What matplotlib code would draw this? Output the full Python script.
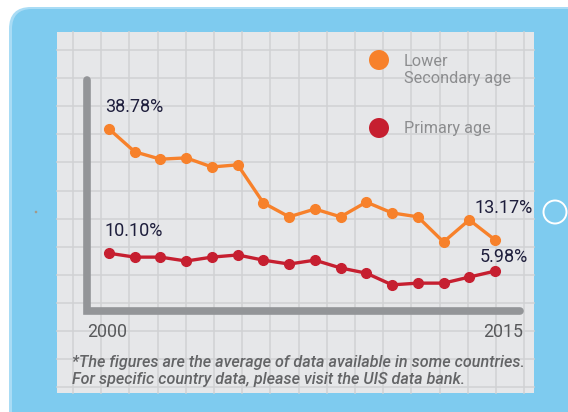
import numpy as np
import matplotlib
matplotlib.use("Agg")
import matplotlib.pyplot as plt
from matplotlib.patches import FancyBboxPatch, Circle, Rectangle

# data
years = list(range(2000, 2016))
lower_secondary = [38.78, 33.5, 31.8, 32.1, 30.0, 30.5, 21.7, 18.5,
                   20.3, 18.5, 21.9, 19.4, 18.5, 12.7, 17.8, 13.17]
primary = [10.10, 9.2, 9.2, 8.3, 9.2, 9.7, 8.5, 7.6,
           8.5, 6.7, 5.5, 2.8, 3.2, 3.2, 4.6, 5.98]
series_names = ["Lower\nSecondary age", "Primary age"]
end_years = ["2000", "2015"]
note = ("*The figures are the average of data available in some countries.\n"
        "For specific country data, please visit the UIS data bank.")

W, H = 568, 412
BLUE = "#7ecbef"
ORANGE = "#f7812b"
RED = "#c61f30"
GRAY = "#939598"
NAVY = "#1e1e3c"

fig = plt.figure(figsize=(W / 100, H / 100), dpi=100)

# background: tablet frame + grid paper, in pixel coords
bg = fig.add_axes([0, 0, 1, 1])
bg.set_xlim(0, W)
bg.set_ylim(H, 0)
bg.axis("off")

bg.add_patch(FancyBboxPatch((9, 7), 620, 460, boxstyle="round,pad=0,rounding_size=22",
                            fc="#a9dcf5", ec="none"))
bg.add_patch(FancyBboxPatch((12, 9), 620, 460, boxstyle="round,pad=0,rounding_size=20",
                            fc=BLUE, ec="none"))
bg.add_patch(Rectangle((57, 32), 477, 361, fc="#e6e7e9", ec="none"))
for gx in np.arange(73, 534, 28.2):
    bg.plot([gx, gx], [32, 393], color="#d1d2d4", lw=1.1)
for gy in np.arange(50, 393, 28.1):
    bg.plot([57, 534], [gy, gy], color="#d1d2d4", lw=1.1)
bg.add_patch(Circle((555, 212), 11.5, fc="none", ec="white", lw=1.4, zorder=3))
bg.add_patch(Circle((36, 212), 1.3, fc="#a39a8a", ec="none", zorder=3))

# axis bars
bg.plot([87, 87, 520], [80, 311, 311], color=GRAY, lw=5.5,
        solid_capstyle="round", solid_joinstyle="miter", zorder=3)

# data axes laid over the whole figure
ax = fig.add_axes([0, 0, 1, 1])
ax.patch.set_alpha(0)
ax.axis("off")
px_per_year = (495 - 109) / 15
px_per_pct = 4.334
y0 = 297
ax.set_xlim(2000 - 109 / px_per_year, 2000 + (W - 109) / px_per_year)
ax.set_ylim((y0 - H) / px_per_pct, y0 / px_per_pct)

for vals, col in [(lower_secondary, ORANGE), (primary, RED)]:
    ax.plot(years, vals, color=col, lw=2.4, marker="o", ms=7,
            solid_capstyle="round")

lab = dict(fontsize=13, color=NAVY, family="Roboto", va="center")
ax.annotate(f"{lower_secondary[0]:.2f}%", (years[0], lower_secondary[0]),
            xytext=(-3, 16), textcoords="offset points", ha="left", **lab)
ax.annotate(f"{primary[0]:.2f}%", (years[0], primary[0]),
            xytext=(-3, 16), textcoords="offset points", ha="left", **lab)
ax.annotate(f"{lower_secondary[-1]:.2f}%", (years[-1], lower_secondary[-1]),
            xytext=(27, 23), textcoords="offset points", ha="right", **lab)
ax.annotate(f"{primary[-1]:.2f}%", (years[-1], primary[-1]),
            xytext=(24, 10), textcoords="offset points", ha="right", **lab)

# legend
bg.add_patch(Circle((379, 60), 10, fc=ORANGE, ec="none", zorder=4))
bg.add_patch(Circle((379, 128), 10, fc=RED, ec="none", zorder=4))
bg.text(404, 70, series_names[0], fontsize=11.7, color="#8c8d8f", family="Roboto",
        va="center", ha="left", linespacing=1.2, zorder=4)
bg.text(404, 128, series_names[1], fontsize=11.7, color="#8c8d8f", family="Roboto",
        va="center", ha="left", zorder=4)

# year labels
bg.text(87, 332, end_years[0], fontsize=12.8, color="#58595b", family="Roboto",
        va="center", ha="left", zorder=4)
bg.text(523, 332, end_years[1], fontsize=12.8, color="#58595b", family="Roboto",
        va="center", ha="right", zorder=4)

# footnote
bg.text(72, 371, note, fontsize=11.6, color="#636466", family="Roboto",
        style="italic", weight="medium", va="center", ha="left", linespacing=1.15,
        zorder=4)

fig.savefig("out.png", dpi=100)
